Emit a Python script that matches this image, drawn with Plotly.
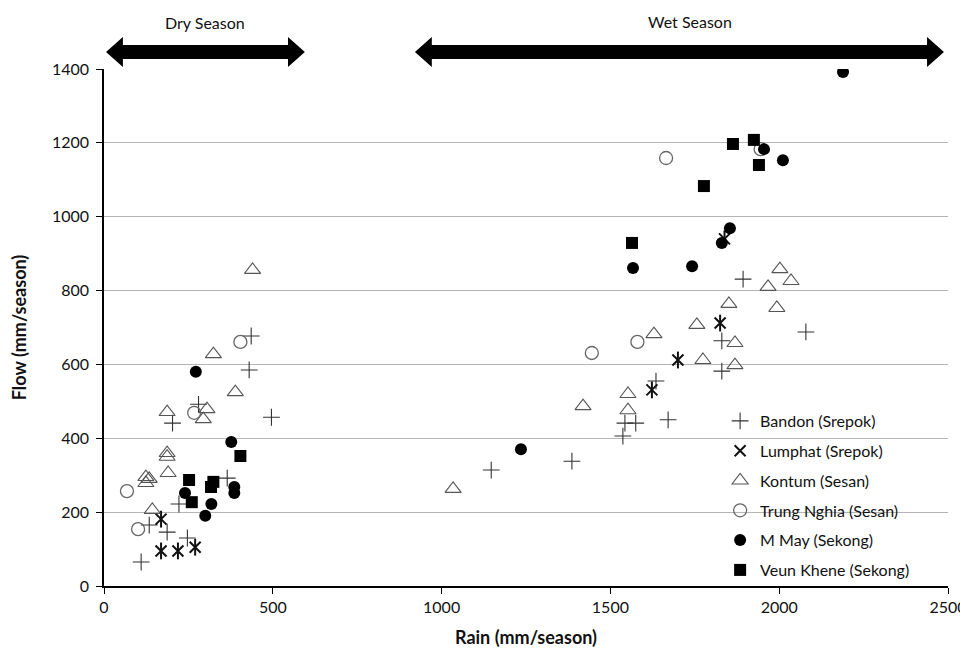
import plotly.graph_objects as go

# ---- data (rain mm/season, flow mm/season) ----
bandon_rain = [110, 134, 187, 222, 247, 365, 203, 280, 430, 436, 496,
               1893, 2079, 1830, 1830, 1635, 1543, 1575, 1671, 1537, 1386, 1147]
bandon_flow = [65, 165, 146, 222, 130, 292, 441, 492, 585, 677, 457,
               831, 688, 664, 582, 555, 441, 441, 450, 406, 338, 314]

lumphat_rain = [169, 169, 219, 270, 1838, 1825, 1700, 1623]
lumphat_flow = [181, 95, 95, 105, 940, 712, 612, 531]

kontum_rain = [440, 324, 389, 187, 305, 294, 187, 187, 190, 124, 134, 124, 143,
               2002, 1967, 2035, 1851, 1993, 1756, 1629, 1869, 1774, 1869, 1552, 1552, 1419, 1034]
kontum_flow = [856, 628, 525, 471, 479, 452, 360, 350, 306, 295, 290, 279, 206,
               858, 810, 826, 764, 753, 707, 682, 658, 612, 598, 520, 476, 487, 263]

trung_rain = [68, 101, 267, 404, 1665, 1945, 1580, 1445]
trung_flow = [257, 154, 469, 661, 1159, 1183, 661, 631]

mmay_rain = [272, 377, 240, 318, 300, 386, 386,
             2189, 1955, 2011, 1854, 1830, 1567, 1742, 1235]
mmay_flow = [580, 390, 252, 222, 190, 268, 252,
             1392, 1183, 1153, 969, 929, 861, 866, 370]

veun_rain = [404, 252, 324, 317, 260, 1863, 1925, 1940, 1777, 1564]
veun_flow = [352, 287, 282, 268, 227, 1197, 1208, 1140, 1083, 929]

x_ticks = [0, 500, 1000, 1500, 2000, 2500]
y_ticks = [0, 200, 400, 600, 800, 1000, 1200, 1400]

dry_span = [6, 595]
wet_span = [921, 2488]

FONT = "'Liberation Sans Narrow', Lato, sans-serif"

fig = go.Figure()

def add(name, xs, ys, symbol, size, color, lw, group, legend=True):
    fig.add_trace(go.Scatter(
        x=xs, y=ys, mode="markers", name=name, legendgroup=group,
        showlegend=legend,
        marker=dict(symbol=symbol, size=size, color=color,
                    line=dict(color=color, width=lw))))

add("Bandon (Srepok)", bandon_rain, bandon_flow, "cross-thin-open", 12, "#333333", 1.1, "g1")
add("Lumphat (Srepok)", lumphat_rain, lumphat_flow, "x-thin-open", 11, "#111111", 2, "g2")
add("Lumphat v", lumphat_rain, lumphat_flow, "line-ns-open", 12, "#111111", 2, "g2", legend=False)
add("Kontum (Sesan)", kontum_rain, kontum_flow, "triangle-up-open", 14, "#555555", 1.1, "g3")
add("Trung Nghia (Sesan)", trung_rain, trung_flow, "circle-open", 13, "#666666", 1.3, "g4")
add("M May (Sekong)", mmay_rain, mmay_flow, "circle", 12, "#000000", 0, "g5")
add("Veun Khene (Sekong)", veun_rain, veun_flow, "square", 12, "#000000", 0, "g6")

# season arrows (x in data units, y in paper)
def arrow_path(x1, x2, head=50, yc=1.033, hh=0.029, sh=0.0135):
    return (f"M {x1} {yc} L {x1+head} {yc+hh} L {x1+head} {yc+sh} "
            f"L {x2-head} {yc+sh} L {x2-head} {yc+hh} L {x2} {yc} "
            f"L {x2-head} {yc-hh} L {x2-head} {yc-sh} L {x1+head} {yc-sh} "
            f"L {x1+head} {yc-hh} Z")

shapes = []
for span in (dry_span, wet_span):
    shapes.append(dict(type="path", xref="x", yref="paper",
                       path=arrow_path(span[0], span[1]),
                       fillcolor="black", line=dict(width=0)))

annotations = [
    dict(x=299, y=1.089, xref="x", yref="paper", text="Dry Season", showarrow=False,
         xanchor="center", yanchor="middle",
         font=dict(size=16, color="#111111", family=FONT)),
    dict(x=1736, y=1.091, xref="x", yref="paper", text="Wet Season", showarrow=False,
         xanchor="center", yanchor="middle",
         font=dict(size=16, color="#111111", family=FONT)),
]

# the page body adds an 8px margin, so the figure is 8px smaller and shifted
fig.update_layout(
    width=960, height=642,
    margin=dict(l=96, r=20, t=61, b=64),
    paper_bgcolor="white", plot_bgcolor="white",
    font=dict(family=FONT, color="#111111", size=16),
    shapes=shapes, annotations=annotations,
    showlegend=True,
    legend=dict(x=0.73, y=0.352, xanchor="left", yanchor="top",
                bgcolor="rgba(0,0,0,0)", traceorder="grouped",
                tracegroupgap=6, font=dict(size=16, family=FONT, color="#111111"),
                itemwidth=30),
    xaxis=dict(range=[0, 2500], tickvals=x_ticks, showgrid=False, zeroline=False,
               automargin=False,
               showline=True, linecolor="black", linewidth=1.5,
               ticks="outside", ticklen=6, tickcolor="black",
               tickfont=dict(size=16, family=FONT),
               title=dict(text="<b>Rain (mm/season)</b>", font=dict(size=18, family=FONT),
                          standoff=16)),
    yaxis=dict(range=[0, 1400], tickvals=y_ticks, showgrid=True, gridcolor="#b5b5b5",
               gridwidth=1, zeroline=False, automargin=False,
               showline=True, linecolor="black", linewidth=1.5,
               ticks="outside", ticklen=6, tickcolor="black",
               ticklabelstandoff=4,
               tickfont=dict(size=16, family=FONT),
               title=dict(text="<b>Flow (mm/season)</b>", font=dict(size=18, family=FONT),
                          standoff=26)),
)

fig.write_html("out.html")
